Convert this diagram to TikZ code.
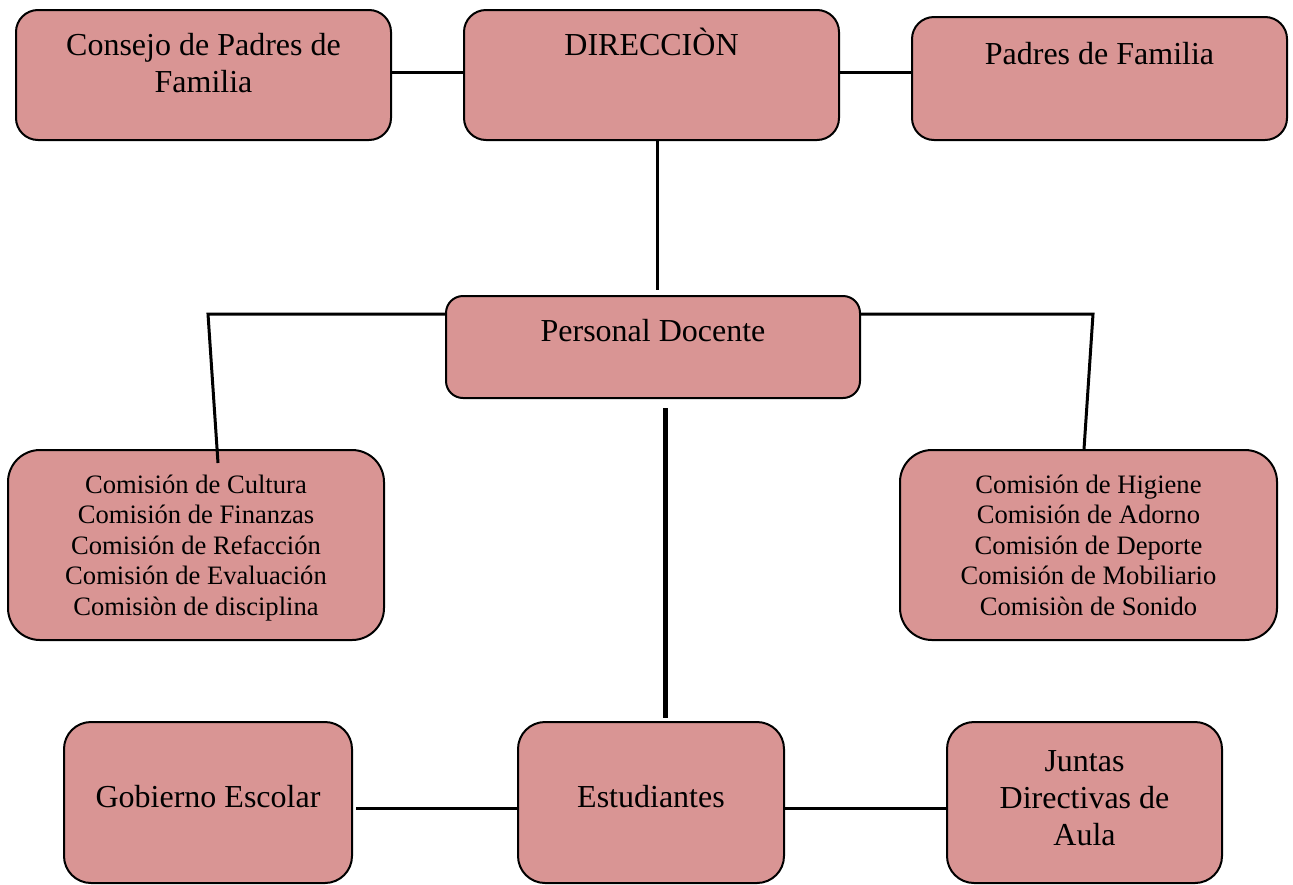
\documentclass[tikz,border=0pt]{standalone}
\usepackage{fontspec}
\setmainfont{Liberation Serif}
\usetikzlibrary{positioning}
\definecolor{boxred}{HTML}{D99594}
\tikzset{orgbox/.style={draw,line width=1pt,fill=boxred,inner xsep=4pt,inner ysep=0pt,outer sep=0pt,align=center,font=\fontsize{16}{18.5}\selectfont}}
\tikzset{smallbox/.style={orgbox,font=\fontsize{13.3}{15.25}\selectfont}}
\tikzset{link/.style={line width=1.5pt}}
\begin{document}
\begin{tikzpicture}[x=0.5pt,y=-0.5pt]
    \useasboundingbox (0,0) rectangle (1293,884);
    \node[orgbox,rounded corners=11pt,minimum width=187.5pt,text height=41pt,text depth=24pt,anchor=north west] (consejo) at (16,10) {Consejo de Padres de\\Familia};
    \node[orgbox,rounded corners=11pt,minimum width=187.5pt,text height=22.5pt,text depth=42.5pt] (direccion) [right=36.5pt of consejo] {DIRECCIÒN};
    \node[orgbox,rounded corners=11pt,minimum width=187.5pt,text height=23.5pt,text depth=38pt,yshift=-1.75pt] (padres) [right=36.5pt of direccion] {Padres de Familia};
    \node[orgbox,rounded corners=8.5pt,minimum width=207pt,text height=22.5pt,text depth=28.5pt,anchor=north west] (docente) at (446,296) {Personal Docente};
    \node[smallbox,rounded corners=16pt,minimum width=188pt,text height=82.5pt,text depth=12.5pt,anchor=north west] (comL) at (8,450) {Comisión de Cultura\\Comisión de Finanzas\\Comisión de Refacción\\Comisión de Evaluación\\Comisiòn de disciplina};
    \node[smallbox,rounded corners=16pt,minimum width=188.5pt,text height=82.5pt,text depth=12.5pt,anchor=north west] (comR) at (900,450) {Comisión de Higiene\\Comisión de Adorno\\Comisión de Deporte\\Comisión de Mobiliario\\Comisiòn de Sonido};
    \node[orgbox,rounded corners=13.5pt,minimum width=133pt,text height=42.5pt,text depth=38pt,anchor=north west] (estudiantes) at (518,722) {Estudiantes};
    \node[orgbox,rounded corners=13.5pt,minimum width=144pt,text height=42.5pt,text depth=38pt] (gobierno) [left=83pt of estudiantes] {Gobierno Escolar};
    \node[orgbox,rounded corners=13.5pt,minimum width=137.5pt,text height=61.5pt,text depth=19pt] (juntas) [right=81.5pt of estudiantes] {Juntas\\Directivas de\\Aula};
    \coordinate (kneeL) at (208,314);
    \coordinate (kneeR) at (1093,314);
    \draw[link] ([yshift=1.5pt]consejo.east) -- ([yshift=1.5pt]direccion.west);
    \draw[link] ([yshift=1.5pt]direccion.east) -- ([yshift=3.25pt]padres.west);
    \draw[link] ([xshift=2.75pt]direccion.south) -- ([xshift=2pt,yshift=3pt]docente.north);
    \draw[link] ([yshift=16.5pt]docente.west) -- (kneeL) -- ([xshift=11pt,yshift=-6.5pt]comL.north);
    \draw[link] ([yshift=16.5pt]docente.east) -- (kneeR) -- ([xshift=-2.25pt,yshift=0.5pt]comR.north);
    \draw[link,line width=2.5pt] ([xshift=6pt,yshift=-5pt]docente.south) -- ([xshift=7pt,yshift=2pt]estudiantes.north);
    \draw[link] ([xshift=2pt,yshift=-2.75pt]gobierno.east) -- ([yshift=-2.75pt]estudiantes.west);
    \draw[link] ([yshift=-2.75pt]estudiantes.east) -- ([yshift=-2.75pt]juntas.west);
\end{tikzpicture}
\end{document}
